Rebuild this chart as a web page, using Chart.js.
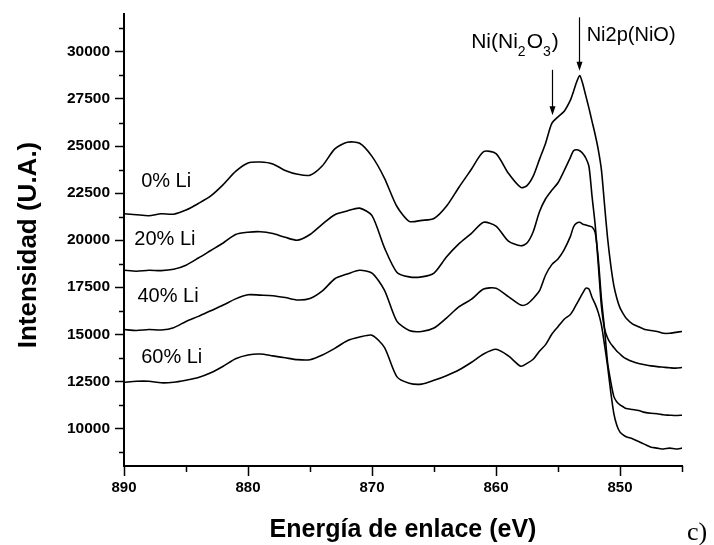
<!DOCTYPE html>
<html>
<head>
<meta charset="utf-8">
<script src="https://cdn.jsdelivr.net/npm/chart.js@4/dist/chart.umd.min.js"></script>
<style>
html,body{margin:0;padding:0;background:#fff;}
canvas{display:block;}
</style>
</head>
<body>
<canvas id="c" width="714" height="545"></canvas>
<script>
// ---------- data ----------
const energies = [
  890,889,888,887,886,885,884,883,882,881,880,879,878,877,876,875,874,873,872,871,870,869,868,867,866,865,864,863,862,861,860,859,858,
  857.5,857,856.5,856,855.5,855,854.5,854,
  853.75,853.5,853.25,853,852.75,852.5,852.25,852,851.75,851.5,851.25,851,850.75,850.5,850.25,850,849.75,849.5,
  849,848.5,848,847.5,847,846.5,846,845.5,845
];
const li0 = [
  21400,21350,21300,21400,21380,21600,21950,22350,22950,23650,24100,24150,24050,23700,23500,23450,23950,24850,25200,25150,24450,23300,21800,21000,21050,21150,21800,22800,23750,24700,24600,23550,22800,
  22900,23400,24280,25150,26200,26550,26850,27440,
  27900,28400,28750,28300,27650,27000,26300,25600,24800,23750,21900,20100,18700,17600,16900,16400,16100,15850,
  15550,15400,15250,15200,15150,15050,15050,15100,15150
];
const li20 = [
  18400,18350,18400,18380,18450,18670,19050,19450,19850,20300,20420,20450,20350,20150,20000,20300,20850,21350,21550,21700,21300,19600,18300,18050,18050,18250,19100,19800,20350,20950,20750,19950,19700,
  19850,20450,21500,22200,22650,23050,23700,24400,
  24750,24800,24750,24600,24350,23900,22300,20800,18700,16500,15300,14800,14500,14300,14100,13950,13800,13700,
  13550,13450,13380,13320,13280,13250,13220,13200,13230
];
const li40 = [
  15250,15200,15250,15230,15350,15680,15950,16250,16550,16880,17100,17080,17050,16950,16820,16900,17300,17950,18200,18400,18250,17350,15700,15200,15150,15330,15860,16450,16850,17400,17450,17000,16550,
  16600,16900,17300,18150,18700,19000,19500,20200,
  20700,20900,20950,20850,20800,20750,20700,20400,19000,16900,15300,13500,12500,11700,11400,11250,11150,11050,
  11000,10950,10850,10800,10780,10720,10700,10680,10700
];
const li60 = [
  12450,12500,12500,12420,12450,12560,12700,12950,13300,13700,13900,13950,13850,13750,13650,13650,13900,14250,14650,14850,14950,14300,12750,12400,12350,12550,12800,13100,13500,13950,14200,13850,13300,
  13450,13670,14100,14450,15000,15400,15800,16050,
  16300,16600,16900,17200,17450,17400,16950,16600,16150,15500,14450,13300,11950,10800,10150,9800,9650,9550,
  9450,9300,9150,9000,8950,8900,8950,8900,8950
];
const seriesNames = ['0% Li','20% Li','40% Li','60% Li'];
const xTicks = [890,880,870,860,850];
const xMinorTicks = [885,875,865,855,845];
const yTicks = [10000,12500,15000,17500,20000,22500,25000,27500,30000];
const yMinorTicks = [8750,11250,13750,16250,18750,21250,23750,26250,28750,31250];

// ---------- annotation placement (data units) ----------
const seriesLabelPos = [
  {x:886.6, y:22800},
  {x:886.7, y:19720},
  {x:886.45, y:16740},
  {x:886.15, y:13490}
];
const peakNotes = {
  nio:  {textX:852.69, textY:30600, arrowX:853.3, arrowTop:31840, arrowTip:29000},
  ni2o3:{textX:862.0, textY:30210, arrowX:855.5, arrowTop:29050, arrowTip:26630}
};

const SANS = '"Liberation Sans", Arial, Helvetica, sans-serif';

function arrowDown(ctx, x, yTop, yTip) {
  ctx.beginPath();
  ctx.moveTo(x, yTop);
  ctx.lineTo(x, yTip - 6);
  ctx.stroke();
  ctx.beginPath();
  ctx.moveTo(x - 3, yTip - 9);
  ctx.lineTo(x + 3, yTip - 9);
  ctx.lineTo(x, yTip);
  ctx.closePath();
  ctx.fill();
}

const decor = {
  id: 'decor',
  afterDraw(chart) {
    const ctx = chart.ctx;
    const xs = chart.scales.x, ys = chart.scales.y;
    const area = chart.chartArea;
    ctx.save();
    ctx.strokeStyle = '#000';
    ctx.fillStyle = '#000';
    ctx.lineWidth = 1.5;
    // minor ticks
    yMinorTicks.forEach(v => {
      const y = Math.round(ys.getPixelForValue(v)) + 0.5;
      ctx.beginPath(); ctx.moveTo(area.left, y); ctx.lineTo(area.left - 5, y); ctx.stroke();
    });
    xMinorTicks.forEach(v => {
      const x = Math.round(xs.getPixelForValue(v)) + 0.5;
      ctx.beginPath(); ctx.moveTo(x, area.bottom); ctx.lineTo(x, area.bottom + 6); ctx.stroke();
    });
    // series labels
    ctx.font = '20px ' + SANS;
    ctx.textAlign = 'center';
    ctx.textBaseline = 'alphabetic';
    seriesNames.forEach((n, i) => {
      ctx.fillText(n, xs.getPixelForValue(seriesLabelPos[i].x), ys.getPixelForValue(seriesLabelPos[i].y));
    });
    // peak notes
    ctx.textAlign = 'left';
    ctx.lineWidth = 1.2;
    const a = peakNotes.nio;
    ctx.font = '20px ' + SANS;
    ctx.fillText('Ni2p(NiO)', xs.getPixelForValue(a.textX), ys.getPixelForValue(a.textY));
    arrowDown(ctx, Math.round(xs.getPixelForValue(a.arrowX)) + 0.5, ys.getPixelForValue(a.arrowTop), ys.getPixelForValue(a.arrowTip));
    const b = peakNotes.ni2o3;
    let px = xs.getPixelForValue(b.textX);
    const py = ys.getPixelForValue(b.textY);
    const parts = [['Ni(Ni', false], ['2', true], ['O', false], ['3', true], [')', false]];
    parts.forEach(([t, sub]) => {
      ctx.font = (sub ? '14px ' : '21px ') + SANS;
      ctx.fillText(t, px, sub ? py + 8 : py);
      px += ctx.measureText(t).width + (sub ? 1 : 0);
    });
    arrowDown(ctx, Math.round(xs.getPixelForValue(b.arrowX)) + 0.5, ys.getPixelForValue(b.arrowTop), ys.getPixelForValue(b.arrowTip));
    // axis titles
    ctx.font = 'bold 25px ' + SANS;
    ctx.textAlign = 'center';
    ctx.fillText('Energía de enlace (eV)', (area.left + area.right) / 2, 537);
    ctx.save();
    ctx.translate(36, 245);
    ctx.rotate(-Math.PI / 2);
    ctx.font = 'bold 26px ' + SANS;
    ctx.fillText('Intensidad (U.A.)', 0, 0);
    ctx.restore();
    // panel letter
    ctx.font = '26px "Liberation Serif", "Times New Roman", serif';
    ctx.textAlign = 'left';
    ctx.fillText('c)', 687, 540);
    ctx.restore();
  }
};

const mk = arr => energies.map((e, i) => ({x: e, y: arr[i]}));

new Chart(document.getElementById('c'), {
  type: 'line',
  data: {
    datasets: [li0, li20, li40, li60].map((arr, i) => ({
      label: seriesNames[i],
      data: mk(arr),
      borderColor: '#000',
      borderWidth: 1.6,
      pointRadius: 0,
      tension: 0.25,
      fill: false
    }))
  },
  options: {
    responsive: false,
    animation: false,
    devicePixelRatio: 1,
    layout: {padding: {top: 10, right: 32, left: 0, bottom: 0}},
    plugins: {legend: {display: false}, tooltip: {enabled: false}},
    scales: {
      x: {
        type: 'linear', position: 'bottom', reverse: true, min: 845, max: 890,
        afterBuildTicks: s => { s.ticks = xTicks.map(v => ({value: v})); },
        afterFit: s => { s.height = 79; },
        ticks: {
          color: '#000', padding: 3, maxRotation: 0, autoSkip: false,
          font: {family: SANS, size: 15, weight: 'bold'},
          callback: v => String(v)
        },
        grid: {drawOnChartArea: false, drawTicks: true, tickLength: 10, tickWidth: 1.5, tickColor: '#000'},
        border: {display: true, color: '#000', width: 2}
      },
      y: {
        type: 'linear', position: 'left', min: 8000, max: 32000,
        afterBuildTicks: s => { s.ticks = yTicks.map(v => ({value: v})); },
        afterFit: s => { s.width = 124; },
        ticks: {
          color: '#000', padding: 5, autoSkip: false,
          font: {family: SANS, size: 15.5, weight: 'bold'},
          callback: v => String(v)
        },
        grid: {drawOnChartArea: false, drawTicks: true, tickLength: 9, tickWidth: 1.5, tickColor: '#000'},
        border: {display: true, color: '#000', width: 2}
      }
    }
  },
  plugins: [decor]
});
</script>
</body>
</html>
